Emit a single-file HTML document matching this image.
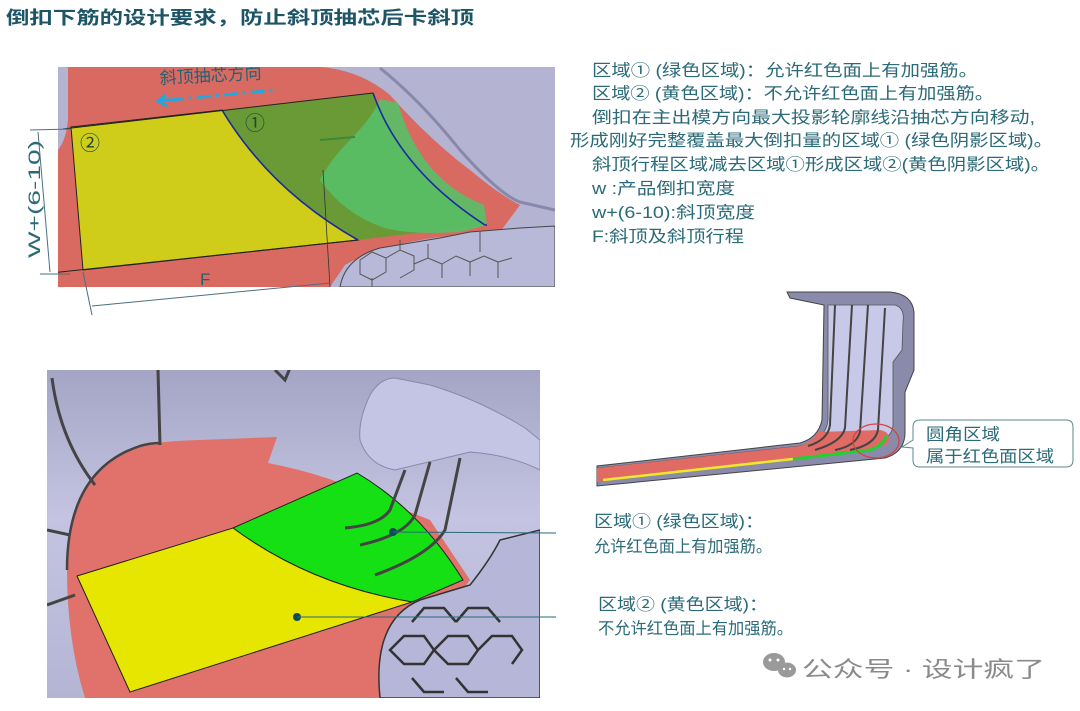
<!DOCTYPE html>
<html><head><meta charset="utf-8"><style>
html,body{margin:0;padding:0;background:#fff;width:1080px;height:711px;overflow:hidden}
svg{display:block}
text{font-family:"Liberation Sans","Noto Sans CJK SC",sans-serif}
</style></head><body>
<svg width="1080" height="711" viewBox="0 0 1080 711" xmlns="http://www.w3.org/2000/svg">
<text x="6" y="24" font-size="18" font-weight="bold" fill="#1d5566" textLength="468" lengthAdjust="spacingAndGlyphs">倒扣下筋的设计要求，防止斜顶抽芯后卡斜顶</text>

<defs><clipPath id="c1"><rect x="58" y="67" width="497" height="220"/></clipPath>
<clipPath id="c2"><rect x="47" y="370" width="493" height="328"/></clipPath>
<linearGradient id="g2" x1="0" y1="0" x2="0" y2="1"><stop offset="0" stop-color="#a4a4c4"/><stop offset="0.45" stop-color="#c4c4e2"/><stop offset="1" stop-color="#b4b4d4"/></linearGradient></defs>
<g clip-path="url(#c1)">
<rect x="58" y="67" width="497" height="220" fill="#b4b4d2"/>
<path d="M68,67 L320,67 Q360,70 390,95 Q430,140 470,170 Q500,195 520,205 L500,232 L440,237 Q380,245 345,265 L330,287 L58,287 L58,150 Q66,140 68,120 Z" fill="#d86a62"/>
<path d="M340,287 Q345,258 380,248 L440,238 L470,232 L520,228 L555,226 L555,287 Z" fill="#b8b8d8" stroke="#444" stroke-width="1"/>
<g stroke="#555" stroke-width="1" fill="none">
<path d="M360,260 l12,-8 l14,6 l0,14 l-14,8 l-12,-6z M386,258 l14,-8 l14,6 l0,14 l-14,8 M400,250 l0,-10 M414,264 l14,-6 l14,6 l0,14 M372,278 l0,10 M428,258 l0,-14 M442,264 l14,-8 l14,6 l0,14 M470,262 l14,-6 l14,6 l0,16 M498,262 l14,-4 M480,232 l0,20"/>
</g>
<path d="M380,68 Q420,100 460,150 Q500,195 520,202 L555,210" stroke="#8888aa" stroke-width="3" fill="none"/>
<path d="M71,127 L222,110 Q270,190 358,240 L83,270 Z" fill="#d0cc1a" stroke="#222" stroke-width="1"/>
<path d="M222,110 L373,93 Q400,170 485,225 L358,240 Q270,190 222,110 Z" fill="#6a9a36"/>
<path d="M380,99 L398,103 Q420,180 484,205 L487,225 L460,232 Q410,235 385,228 Q345,215 320,180 Q330,160 350,140 Q372,118 380,99 Z" fill="#58c068" opacity="0.9"/>
<path d="M222,110 Q270,190 358,240" stroke="#1a2aa0" stroke-width="1.6" fill="none"/>
<path d="M373,93 Q400,170 485,225 L487,225" stroke="#1a2aa0" stroke-width="1.6" fill="none"/>
<line x1="320" y1="140" x2="355" y2="137" stroke="#3a8a3a" stroke-width="2"/>
<line x1="63" y1="129" x2="373" y2="93" stroke="#222" stroke-width="1"/>
<line x1="42" y1="274" x2="358" y2="240" stroke="#222" stroke-width="1"/>
<line x1="323" y1="170" x2="330" y2="287" stroke="#333" stroke-width="0.8"/>
<text x="80" y="150" font-size="20" fill="#1b4a3a">②</text>
<text x="245" y="130" font-size="20" fill="#1b4a3a">①</text>
<text x="160" y="84" font-size="17" fill="#2a5f70" transform="rotate(-3 160 84)">斜顶抽芯方向</text>
<path d="M170,100 L276,90" stroke="#22a8e0" stroke-width="3" stroke-dasharray="14,5,3,5" fill="none"/>
<path d="M170,100 L160,100 M166,95 L158,101 L167,106" stroke="#22a8e0" stroke-width="3" fill="none"/>
<text x="200" y="285" font-size="17" fill="#2a5f70">F</text>
</g>
<line x1="30" y1="130" x2="72" y2="129" stroke="#4a7080" stroke-width="1"/>
<line x1="40" y1="274" x2="70" y2="274" stroke="#4a7080" stroke-width="1"/>
<line x1="38" y1="132" x2="50" y2="272" stroke="#4a7080" stroke-width="1"/>
<line x1="83" y1="272" x2="92" y2="315" stroke="#4a7080" stroke-width="1"/>
<line x1="92" y1="306" x2="330" y2="283" stroke="#4a7080" stroke-width="1"/>
<text x="0" y="0" font-size="17" fill="#2a6a78" transform="translate(40,258) rotate(-90)" textLength="118" lengthAdjust="spacingAndGlyphs">W+(6-10)</text>

<g font-size="16.5" fill="#2b6a78">
<text x="592" y="76" textLength="386" lengthAdjust="spacingAndGlyphs">区域① (绿色区域)：允许红色面上有加强筋。</text>
<text x="592" y="99" textLength="402" lengthAdjust="spacingAndGlyphs">区域② (黄色区域)：不允许红色面上有加强筋。</text>
<text x="592" y="123" textLength="443" lengthAdjust="spacingAndGlyphs">倒扣在主出模方向最大投影轮廓线沿抽芯方向移动,</text>
<text x="570" y="146" textLength="483" lengthAdjust="spacingAndGlyphs">形成刚好完整覆盖最大倒扣量的区域① (绿色阴影区域)。</text>
<text x="592" y="170" textLength="458" lengthAdjust="spacingAndGlyphs">斜顶行程区域减去区域①形成区域②(黄色阴影区域)。</text>
<text x="592" y="194" textLength="143" lengthAdjust="spacingAndGlyphs">w :产品倒扣宽度</text>
<text x="592" y="218" textLength="163" lengthAdjust="spacingAndGlyphs">w+(6-10):斜顶宽度</text>
<text x="592" y="242" textLength="152" lengthAdjust="spacingAndGlyphs">F:斜顶及斜顶行程</text>
</g>

<path d="M787,292 L890,292 Q912,294 914,312 L914,370 L905,392 L905,430 Q906,452 885,458 L597,486 L597,466 L800,443 Q818,438 822,420 L824,305 L790,298 Z" fill="#8a8aaa" stroke="#444" stroke-width="1"/>
<path d="M828,305 L895,305 Q905,308 903,322 L902,350 L893,362 L893,425 Q892,440 870,444 L600,476 L598,468 L800,446 Q826,440 828,420 Z" fill="#c8c8e8" stroke="#555" stroke-width="0.8"/>
<path d="M597,468 L800,446 Q812,442 818,432 L880,430 Q892,432 888,444 L870,450 L597,482 Z" fill="#df6b64"/>
<path d="M603,480 L793,459" stroke="#f0e82a" stroke-width="2.5"/>
<path d="M793,459 L870,450 Q884,445 886,436" stroke="#22d030" stroke-width="3" fill="none"/>
<g stroke="#444" stroke-width="2" fill="none">
<path d="M835,305 L830,425 Q828,440 808,446"/>
<path d="M852,305 L845,428 Q842,442 815,450"/>
<path d="M868,305 L860,432 Q856,446 835,450"/>
<path d="M885,308 L878,430 Q875,445 850,450"/>
</g>
<ellipse cx="876" cy="441" rx="23" ry="17" fill="none" stroke="#d84040" stroke-width="1.2"/>
<path d="M920,420 L1066,420 Q1073,420 1073,427 L1073,460 Q1073,467 1066,467 L920,467 Q913,467 913,460 L913,448 L902,447 L913,440 L913,427 Q913,420 920,420 Z" fill="#fff" stroke="#5a8a90" stroke-width="1"/>
<text x="926" y="440" font-size="16.5" fill="#2b6a78" textLength="74" lengthAdjust="spacingAndGlyphs">圆角区域</text>
<text x="926" y="462" font-size="16.5" fill="#2b6a78" textLength="128" lengthAdjust="spacingAndGlyphs">属于红色面区域</text>

<g clip-path="url(#c2)">
<rect x="47" y="370" width="493" height="328" fill="url(#g2)"/>
<path d="M67,570 Q67,470 140,446 Q160,441 200,440 L277,437 L268,463 Q330,475 380,500 L430,520 L470,580 L440,620 Q400,640 380,698 L85,698 Q67,640 67,570 Z" fill="#e0716b"/>
<path d="M380,698 Q372,620 420,600 L470,585 Q490,560 500,540 L540,530 L540,698 Z" fill="#b6b6d8" stroke="#333" stroke-width="1.5"/>
<g stroke="#333" stroke-width="2.5" fill="none">
<path d="M390,650 l14,-14 l20,0 l10,14 l-10,14 l-20,0z M434,650 l14,-14 l20,0 l10,14 l-10,14 l-20,0z M412,622 l12,-14 l20,0 l12,14 M412,678 l12,14 l20,0 M456,678 l12,14 l20,0 M478,650 l14,-14 l20,0 l10,14 l-10,14 M456,622 l12,-14 l20,0 l12,14"/>
</g>
<path d="M395,378 L430,385 Q480,400 525,428 L540,440 L540,470 Q510,455 470,452 L395,470 Q368,465 360,440 Q358,420 370,395 Q380,378 395,378 Z" fill="#c4c4e4" stroke="#8888aa" stroke-width="1"/>
<path d="M233,528 L357,473 Q420,510 463,580 L412,602 Q310,585 233,528 Z" fill="#14e014" stroke="#222" stroke-width="1"/>
<path d="M77,576 L233,528 Q310,585 412,602 L130,692 Z" fill="#e6e600" stroke="#222" stroke-width="1"/>
<g stroke="#444" stroke-width="3" fill="none">
<path d="M405,470 L390,510 Q380,525 345,528"/>
<path d="M430,462 L415,515 Q405,535 360,545"/>
<path d="M460,458 L445,530 Q430,555 375,575"/>
<path d="M158,370 L160,445 M52,378 Q60,440 95,485 M47,530 L70,535 M47,605 L75,595"/>
<path d="M67,570 Q67,470 140,446 Q150,443 160,443" stroke-width="2.5"/>
<path d="M275,370 L285,380 L290,368"/>
</g>
<circle cx="393" cy="532" r="4" fill="#0e4a5a"/>
<circle cx="297" cy="617" r="4" fill="#0e4a5a"/>
</g>
<line x1="393" y1="532" x2="556" y2="533" stroke="#2a6a78" stroke-width="1"/>
<line x1="297" y1="617" x2="556" y2="617" stroke="#2a6a78" stroke-width="1"/>
<g font-size="16.5" fill="#2b6a78">
<text x="594" y="527" textLength="170" lengthAdjust="spacingAndGlyphs">区域① (绿色区域)：</text>
<text x="594" y="552" textLength="178" lengthAdjust="spacingAndGlyphs">允许红色面上有加强筋。</text>
<text x="598" y="610" textLength="170" lengthAdjust="spacingAndGlyphs">区域② (黄色区域)：</text>
<text x="598" y="634" textLength="195" lengthAdjust="spacingAndGlyphs">不允许红色面上有加强筋。</text>
</g>

<g fill="#9a9a9a">
<ellipse cx="774" cy="662" rx="11" ry="9"/>
<ellipse cx="787" cy="670" rx="9" ry="7.5"/>
</g>
<g fill="#fff"><circle cx="770" cy="660" r="1.5"/><circle cx="778" cy="660" r="1.5"/><circle cx="784" cy="669" r="1.2"/><circle cx="790" cy="669" r="1.2"/></g>
<text x="802" y="677" font-size="22" fill="#8a8a8a" textLength="243" lengthAdjust="spacingAndGlyphs">公众号 · 设计疯了</text>
</svg>
</body></html>
